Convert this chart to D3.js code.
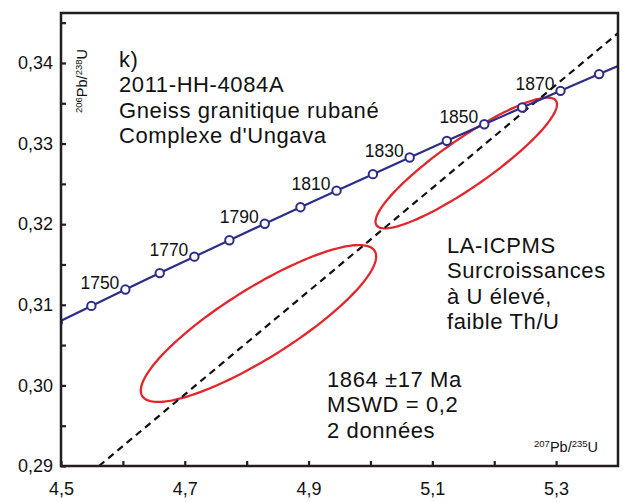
<!DOCTYPE html>
<html>
<head>
<meta charset="utf-8">
<script src="https://cdn.jsdelivr.net/npm/d3@7"></script>
<style>
  body { margin: 0; background: #fff; }
  text { font-family: "Liberation Sans", Arial, sans-serif; fill: #111; }
</style>
</head>
<body>
<svg id="chart" width="623" height="502"></svg>
<script>
// concordia points (age in Ma, 207Pb/235U, 206Pb/238U)
var ages      = [1730, 1740, 1750, 1760, 1770, 1780, 1790, 1800, 1810, 1820, 1830, 1840, 1850, 1860, 1870, 1880, 1890];
var pb207u235 = [4.4947, 4.5491, 4.6040, 4.6595, 4.7155, 4.7721, 4.8292, 4.8869, 4.9452, 5.0040, 5.0634, 5.1234, 5.1840, 5.2452, 5.3071, 5.3695, 5.4325];
var pb206u238 = [0.30782, 0.30986, 0.31189, 0.31393, 0.31597, 0.31801, 0.32006, 0.32211, 0.32416, 0.32621, 0.32827, 0.33034, 0.33240, 0.33447, 0.33654, 0.33862, 0.34069];
var labelAges = [1750, 1770, 1790, 1810, 1830, 1850, 1870];

// discordia line end points
var discX = [4.5614, 5.40];
var discY = [0.2900, 0.3437];

// error ellipses: centre, major and minor half axes (data units)
var ellCx     = [4.8191, 5.1548];
var ellCy     = [0.30768, 0.32759];
var ellMajorX = [0.18772, 0.14491];
var ellMajorY = [0.009007, 0.007729];
var ellMinorX = [0.02997, 0.02213];
var ellMinorY = [-0.003682, -0.002444];

// axes
var xTicks = [4.5, 4.6, 4.7, 4.8, 4.9, 5.0, 5.1, 5.2, 5.3];
var xLabels = [4.5, 4.7, 4.9, 5.1, 5.3];
var yTicks = [0.29, 0.295, 0.30, 0.305, 0.31, 0.315, 0.32, 0.325, 0.33, 0.335, 0.34, 0.345];
var yLabels = [0.29, 0.30, 0.31, 0.32, 0.33, 0.34];

var titleLines = ["k)", "2011-HH-4084A", "Gneiss granitique rubané", "Complexe d'Ungava"];
var methodLines = ["LA-ICPMS", "Surcroissances", "à U élevé,", "faible Th/U"];
var resultLines = ["1864 ±17 Ma", "MSWD = 0,2", "2 données"];

var svg = d3.select("#chart");
var pL = 61, pR = 618, pT = 13, pB = 466;

var x = d3.scaleLinear().domain([4.5, 5.4]).range([pL, pR]);
var y = d3.scaleLinear().domain([0.29, 0.3462]).range([pB, pT]);

var fr = d3.formatLocale({decimal: ",", thousands: ".", grouping: [3], currency: ["", ""]});
var fx = fr.format(".1f"), fy = fr.format(".2f");

svg.append("clipPath").attr("id", "clip")
  .append("rect").attr("x", pL).attr("y", pT).attr("width", pR - pL).attr("height", pB - pT);

var plot = svg.append("g").attr("clip-path", "url(#clip)");

// ellipses
ellCx.forEach(function(cx, i) {
  var pts = d3.range(0, 361, 2).map(function(a) {
    var t = a * Math.PI / 180;
    return [cx + Math.cos(t) * ellMajorX[i] + Math.sin(t) * ellMinorX[i],
            ellCy[i] + Math.cos(t) * ellMajorY[i] + Math.sin(t) * ellMinorY[i]];
  });
  plot.append("path")
    .attr("d", d3.line().x(function(d) { return x(d[0]); }).y(function(d) { return y(d[1]); })(pts))
    .attr("fill", "none").attr("stroke", "#e3262b").attr("stroke-width", 2.3);
});

// discordia
plot.append("line")
  .attr("x1", x(discX[0])).attr("y1", y(discY[0]))
  .attr("x2", x(discX[1])).attr("y2", y(discY[1]))
  .attr("stroke", "#111").attr("stroke-width", 2.2).attr("stroke-dasharray", "7,5");

// concordia
var conc = ages.map(function(a, i) { return {age: a, x: pb207u235[i], y: pb206u238[i]}; });
plot.append("path")
  .attr("d", d3.line().x(function(d) { return x(d.x); }).y(function(d) { return y(d.y); })(conc))
  .attr("fill", "none").attr("stroke", "#2b2d87").attr("stroke-width", 2.2);

plot.selectAll("circle").data(conc).enter().append("circle")
  .attr("cx", function(d) { return x(d.x); })
  .attr("cy", function(d) { return y(d.y); })
  .attr("r", 4.2)
  .attr("fill", "#fff").attr("stroke", "#2b2d87").attr("stroke-width", 2);

svg.selectAll("text.age").data(conc.filter(function(d) { return labelAges.indexOf(d.age) >= 0; }))
  .enter().append("text").attr("class", "age")
  .attr("x", function(d) { return x(d.x) - 6; })
  .attr("y", function(d) { return y(d.y) - 1; })
  .attr("text-anchor", "end").attr("font-size", 17.5)
  .text(function(d) { return d.age; });

// frame
svg.append("rect").attr("x", pL).attr("y", pT).attr("width", pR - pL).attr("height", pB - pT)
  .attr("fill", "none").attr("stroke", "#231f20").attr("stroke-width", 2.5);

// axes, ticks pointing inward
var yAxis = svg.append("g").attr("transform", "translate(" + pL + ",0)")
  .call(d3.axisLeft(y).tickValues(yTicks).tickSizeInner(-5).tickSizeOuter(0)
    .tickFormat(function(d) { return yLabels.some(function(v) { return Math.abs(v - d) < 1e-9; }) ? fy(d) : ""; }));
var xAxis = svg.append("g").attr("transform", "translate(0," + pB + ")")
  .call(d3.axisBottom(x).tickValues(xTicks).tickSizeInner(-5).tickSizeOuter(0)
    .tickFormat(function(d) { return xLabels.some(function(v) { return Math.abs(v - d) < 1e-9; }) ? fx(d) : ""; }));
[xAxis, yAxis].forEach(function(g) {
  g.select(".domain").remove();
  g.selectAll(".tick line").attr("stroke", "#231f20").attr("stroke-width", 2.2);
  g.selectAll(".tick text").attr("font-size", 18).attr("fill", "#111")
    .attr("font-family", "'Liberation Sans', Arial, sans-serif");
});
yAxis.selectAll(".tick text").attr("x", -8);
xAxis.selectAll(".tick text").attr("y", 16);

// axis titles
var yt = svg.append("text").attr("transform", "translate(87,81) rotate(-90)").attr("text-anchor", "middle");
yt.append("tspan").attr("font-size", 9.5).attr("dy", -5).text("206");
yt.append("tspan").attr("font-size", 14.5).attr("dy", 5).text("Pb/");
yt.append("tspan").attr("font-size", 9.5).attr("dy", -5).text("238");
yt.append("tspan").attr("font-size", 14.5).attr("dy", 5).text("U");

var xt = svg.append("text").attr("x", 598).attr("y", 452).attr("text-anchor", "end");
xt.append("tspan").attr("font-size", 9.5).attr("dy", -5).text("207");
xt.append("tspan").attr("font-size", 14.5).attr("dy", 5).text("Pb/");
xt.append("tspan").attr("font-size", 9.5).attr("dy", -5).text("235");
xt.append("tspan").attr("font-size", 14.5).attr("dy", 5).text("U");

// text blocks
function block(lines, x0, y0) {
  svg.append("g").selectAll("text").data(lines).enter().append("text")
    .attr("x", x0).attr("y", function(d, i) { return y0 + i * 25.4; })
    .attr("font-size", 22).attr("letter-spacing", 0.6).text(function(d) { return d; });
}
block(titleLines, 119, 67);
block(methodLines, 447, 253);
block(resultLines, 327, 387);
</script>
</body>
</html>
